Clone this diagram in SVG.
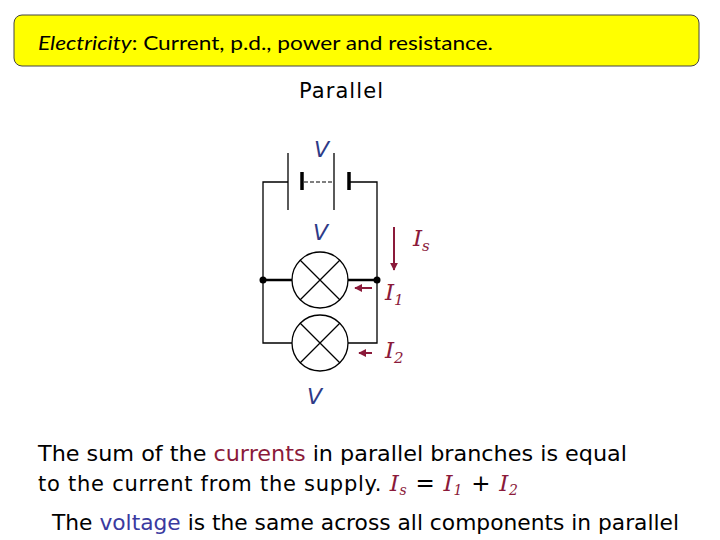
<svg xmlns="http://www.w3.org/2000/svg" width="720" height="540" viewBox="0 0 720 540">
<style>
.w{stroke:#000;stroke-width:1.3;fill:none}
.t{font-family:"DejaVu Sans",sans-serif;font-size:21px;fill:#000}
.v{font-family:"DejaVu Sans",sans-serif;font-style:italic;font-size:22px;fill:#2e3a87}
.i{font-family:"DejaVu Serif",serif;font-style:italic;font-size:23px;fill:#8b1a3a}
.a{stroke:#8b1a3a;stroke-width:2;fill:none}
</style>
<defs><marker id="ah" viewBox="0 0 10 10" refX="9" refY="5" markerWidth="4" markerHeight="4" orient="auto"><path d="M0,0L10,5L0,10z" fill="#8b1a3a"/></marker></defs>
<rect width="720" height="540" fill="#fff"/>
<g id="title"><rect x="14" y="15" width="685" height="51" rx="8" fill="#ffff00" stroke="#444" stroke-width="1"/>
<text x="38" y="50" font-family="Lato,sans-serif" font-size="20" textLength="455" lengthAdjust="spacingAndGlyphs"><tspan font-style="italic">Electricity</tspan>: Current, p.d., power and resistance.</text></g>
<text class="t" x="299" y="98" font-size="20" textLength="84">Parallel</text>
<g id="connectors">
<path class="w" d="M288,182H263V343H292M348,343H377V182H349M263,280H292M348,280H377"/>
<path d="M263,280H292M348,280H377" stroke="#000" stroke-width="2.5"/>
<line class="w" x1="288" y1="153" x2="288" y2="210"/><line class="w" x1="334" y1="153" x2="334" y2="210"/>
<line x1="302" y1="172" x2="302" y2="190" stroke="#000" stroke-width="3.5"/><line x1="349" y1="172" x2="349" y2="190" stroke="#000" stroke-width="3.5"/>
<line x1="304" y1="182" x2="334" y2="182" stroke="#000" stroke-width="1.2" stroke-dasharray="4,2"/>
<circle cx="263" cy="280" r="3.5"/><circle cx="377" cy="280" r="3.5"/>
<line class="a" x1="394" y1="227" x2="394" y2="270" marker-end="url(#ah)"/>
<line class="a" x1="372" y1="288" x2="355" y2="288" marker-end="url(#ah)"/>
<line class="a" x1="372" y1="353" x2="359" y2="353" marker-end="url(#ah)"/>
</g>
<g id="lamp1" class="w"><circle cx="320" cy="280" r="28"/><path d="M300,260L340,300M340,260L300,300"/></g>
<g id="lamp2" class="w"><circle cx="320" cy="343" r="28"/><path d="M300,323L340,363M340,323L300,363"/></g>
<text class="v" x="314" y="157">V</text><text class="v" x="313" y="240">V</text><text class="v" x="307" y="404">V</text>
<text class="i" x="413" y="246">I<tspan font-size="15" dy="5">s</tspan></text>
<text class="i" x="385" y="300">I<tspan font-size="15" dy="5">1</tspan></text>
<text class="i" x="385" y="358">I<tspan font-size="15" dy="5">2</tspan></text>
<text class="t" x="38" y="461" textLength="589" lengthAdjust="spacingAndGlyphs">The sum of the <tspan fill="#8b1a3a">currents</tspan> in parallel branches is equal</text>
<text class="t" x="38" y="491" textLength="480" lengthAdjust="spacing">to the current from the supply. <tspan class="i">I<tspan font-size="14" dy="4">s</tspan><tspan dy="-4" fill="#000" font-style="normal" font-family="DejaVu Sans"> = </tspan>I<tspan font-size="14" dy="4">1</tspan><tspan dy="-4" fill="#000" font-style="normal" font-family="DejaVu Sans"> + </tspan>I<tspan font-size="14" dy="4">2</tspan></tspan></text>
<text class="t" x="52" y="530" textLength="627" lengthAdjust="spacingAndGlyphs">The <tspan fill="#3a3aa0">voltage</tspan> is the same across all components in parallel</text>
</svg>
